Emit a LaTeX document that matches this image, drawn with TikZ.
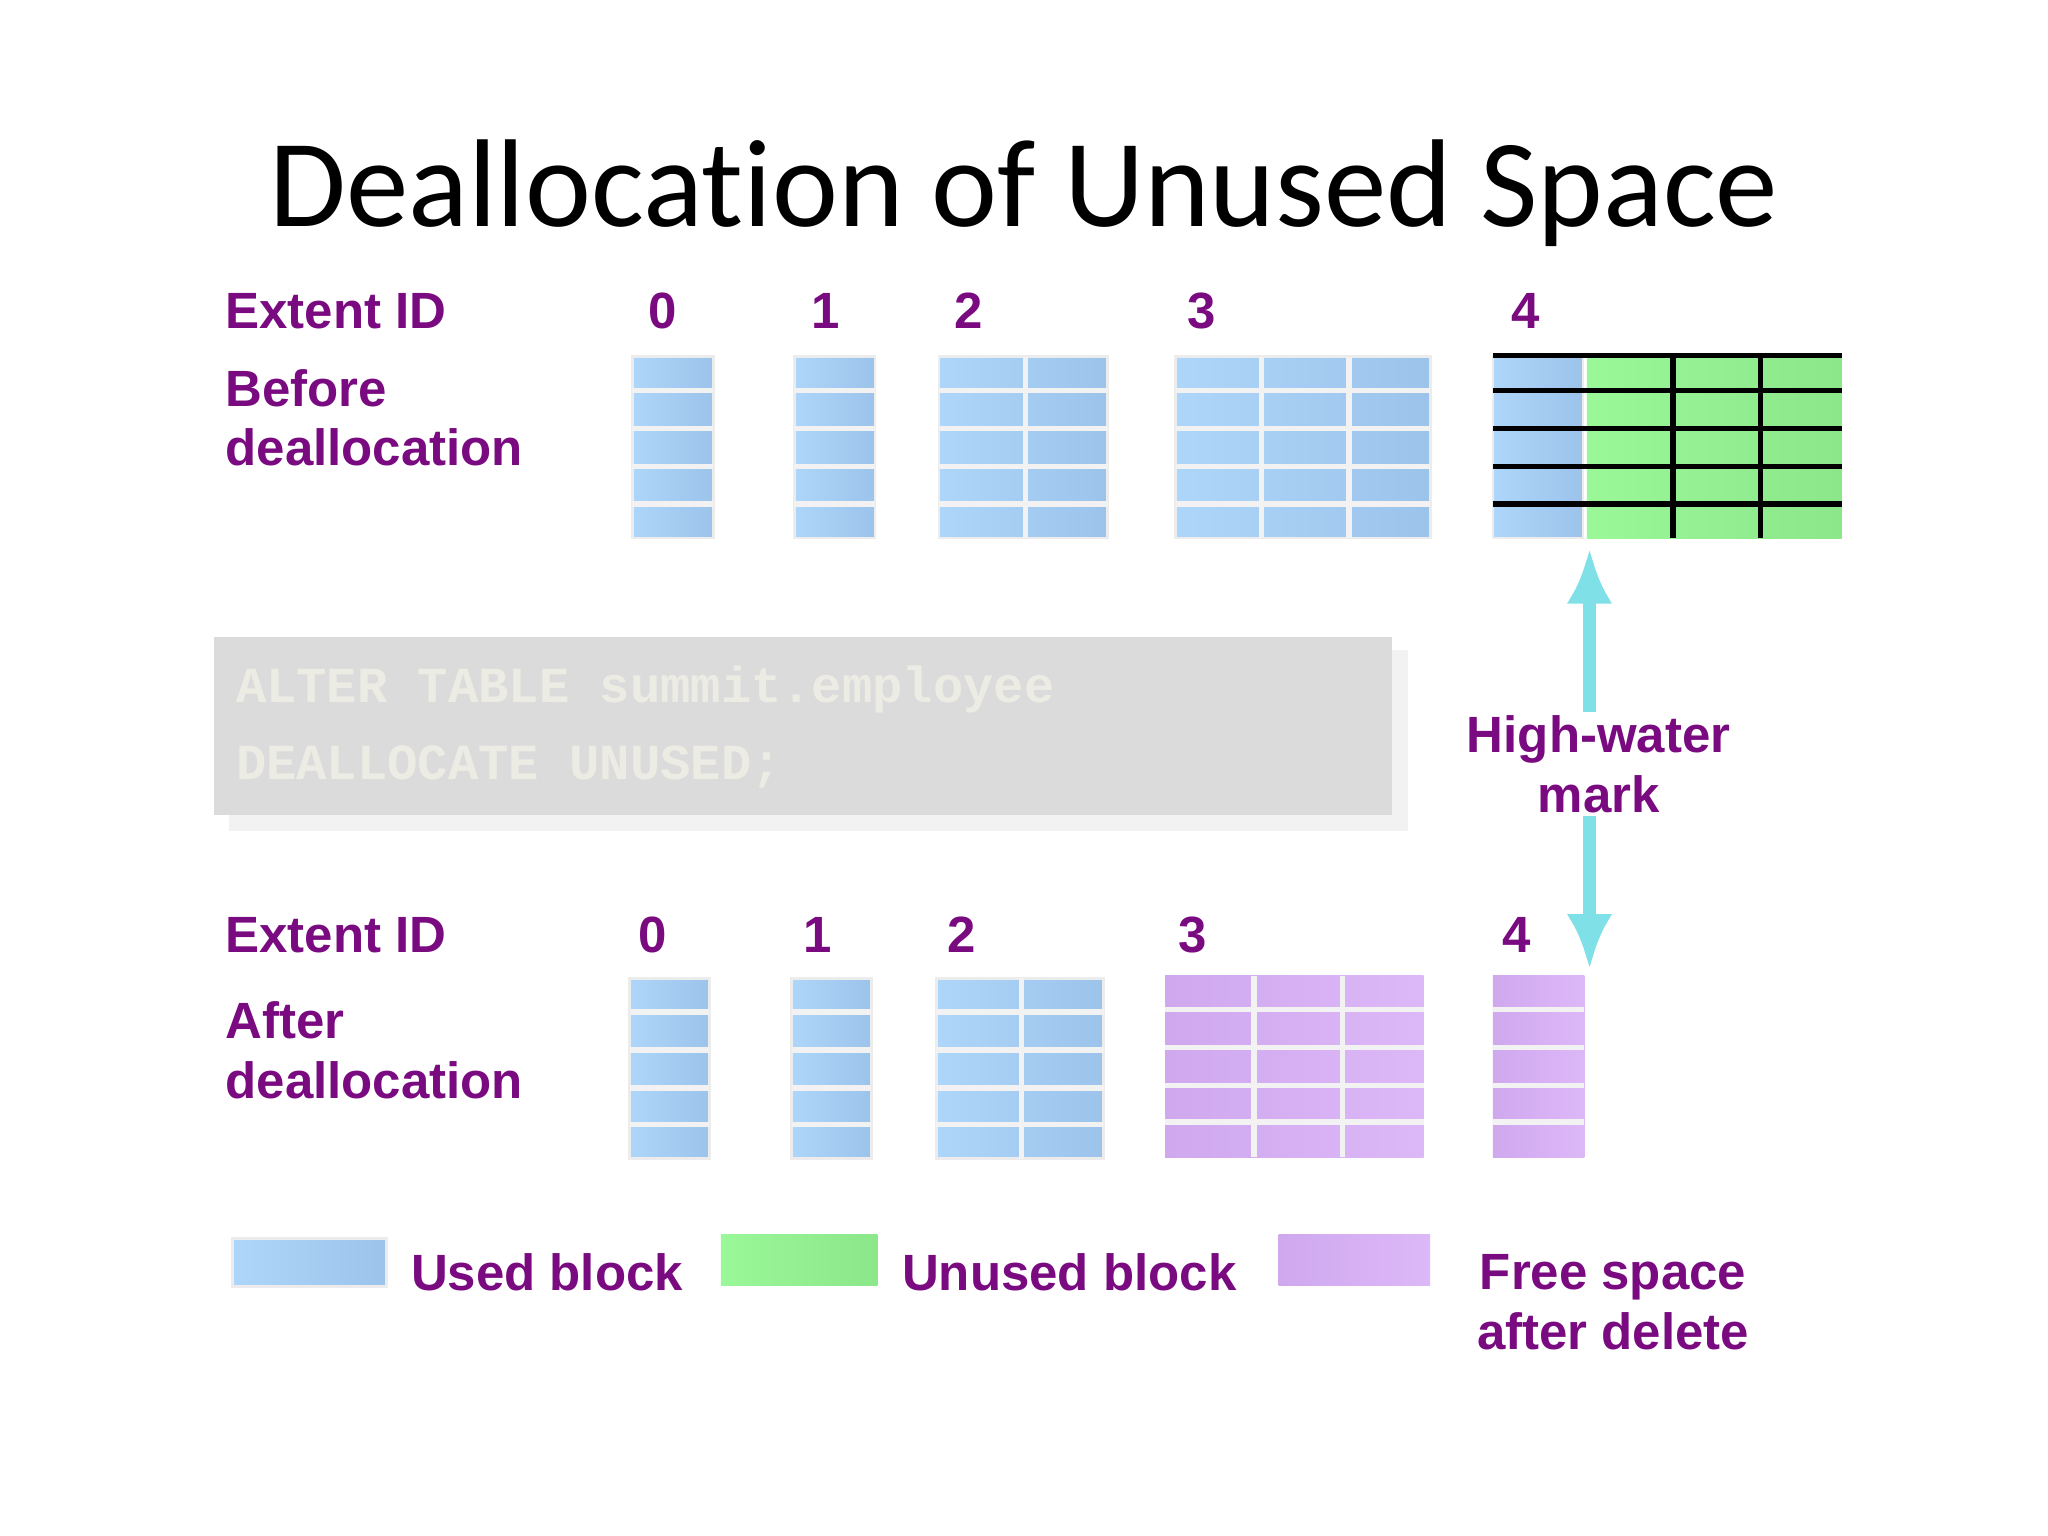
\documentclass[tikz,border=0pt]{standalone}
\usepackage{fontspec}
\setmainfont{Liberation Sans}
\newfontfamily\titlefont[Ligatures=NoCommon]{Carlito}
\newfontfamily\codefont{Liberation Mono}
\usetikzlibrary{arrows.meta}
\begin{document}
\begin{tikzpicture}[x=0.01cm,y=-0.01cm,
  lab/.style={font=\fontsize{11.1}{13}\selectfont\bfseries, text=purp, inner sep=0pt},
  num/.style={lab, anchor=center},
  used/.style={left color=ublue, right color=ublue2, draw=white!85!gray, line width=0.6pt},
  unused/.style={left color=ugreen, right color=ugreen2},
  free/.style={left color=ppl2, right color=ppl},
  wl/.style={white!90!gray, line width=1.2pt},
  code/.style={anchor=west, font=\codefont\bfseries\fontsize{11}{13}\selectfont, text=codet, inner sep=0pt},
  hw/.style={hwc, line width=3pt, -{Latex[length=12pt,width=10pt]}}]
\definecolor{purp}{HTML}{7A0A80}
\definecolor{ublue}{HTML}{AED6FA}
\definecolor{ublue2}{HTML}{9CC3EA}
\definecolor{ugreen}{HTML}{9AF898}
\definecolor{ugreen2}{HTML}{8CE68A}
\definecolor{ppl}{HTML}{DDB8F8}
\definecolor{ppl2}{HTML}{CFA8EE}
\definecolor{codet}{HTML}{ECECE4}
\definecolor{hwc}{HTML}{80E0E8}
\useasboundingbox (0,0) rectangle (1568,1176);
\fill[white] (0,0) rectangle (1568,1176);
\node[font=\titlefont\fontsize{27.2}{32}\selectfont] (title) at (784,148) {Deallocation of Unused Space};
% top labels
\node[lab,anchor=west] (eid1) at (172,238) {Extent ID};
\node[lab,anchor=north west,align=left] (bef) at (172,282) {Before\\deallocation};
\foreach \n/\x in {0/507,1/632,2/742,3/920,4/1168} \node[num] (t\n) at (\x,238) {\n};
% top blocks
\foreach \a/\b in {484/546,608/670,719/848,900/1095} {
  \shade[used] (\a,273) rectangle (\b,412);
  \foreach \yy in {299,328,357,386} \draw[wl] (\a,\yy) -- (\b,\yy);
}
\draw[wl] (785,273) -- (785,412);
\draw[wl] (966,273) -- (966,412);
\draw[wl] (1033,273) -- (1033,412);
\shade[used] (1143,273) rectangle (1212,412);
\shade[unused] (1215,273) rectangle (1410,412);
\foreach \yy in {272,299,328,357,386} \draw[black, line width=1.2pt] (1143,\yy) -- (1410,\yy);
\draw[black, line width=1.2pt] (1281,272) -- (1281,412);
\draw[black, line width=1.2pt] (1348,272) -- (1348,412);
% code box
\fill[black!5] (175,498) rectangle (1078,636);
\fill[black!14] (164,488) rectangle (1066,624);
\node[code] (c1) at (180,528) {ALTER TABLE summit.employee};
\node[code] (c2) at (180,587) {DEALLOCATE UNUSED;};
% high-water
\node[lab, align=center] (hwm) at (1224,585) {High-water\\mark};
\coordinate (hwtop) at (1217,420);
\coordinate (hwbot) at (1217,742);
\draw[hw] (1217,545) -- (hwtop);
\draw[hw] (1217,625) -- (hwbot);
% bottom labels
\node[lab,anchor=west] (eid2) at (172,716) {Extent ID};
\node[lab,anchor=north west,align=left] (aft) at (172,766) {After\\deallocation};
\foreach \n/\x in {0/500,1/626,2/736,3/913,4/1161} \node[num] (b\n) at (\x,716) {\n};
\foreach \a/\b in {482/543,606/667,717/845} {
  \shade[used] (\a,749) rectangle (\b,887);
  \foreach \yy in {775,804,833,861} \draw[wl] (\a,\yy) -- (\b,\yy);
}
\draw[wl] (782,749) -- (782,887);
\foreach \a/\b in {892/1090,1143/1213} {
  \shade[free] (\a,747) rectangle (\b,886);
  \foreach \yy in {773,802,831,859} \draw[wl] (\a,\yy) -- (\b,\yy);
}
\draw[wl] (960,747) -- (960,886);
\draw[wl] (1028,747) -- (1028,886);
% legend
\shade[used] (178,948) rectangle (296,985);
\node[lab,anchor=west] (l1) at (314,974) {Used block};
\shade[unused] (552,945) rectangle (672,984);
\node[lab,anchor=west] (l2) at (690,974) {Unused block};
\shade[free] (979,945) rectangle (1095,984);
\node[lab,align=center] (l3) at (1235,997) {Free space\\after delete};
\end{tikzpicture}
\end{document}
